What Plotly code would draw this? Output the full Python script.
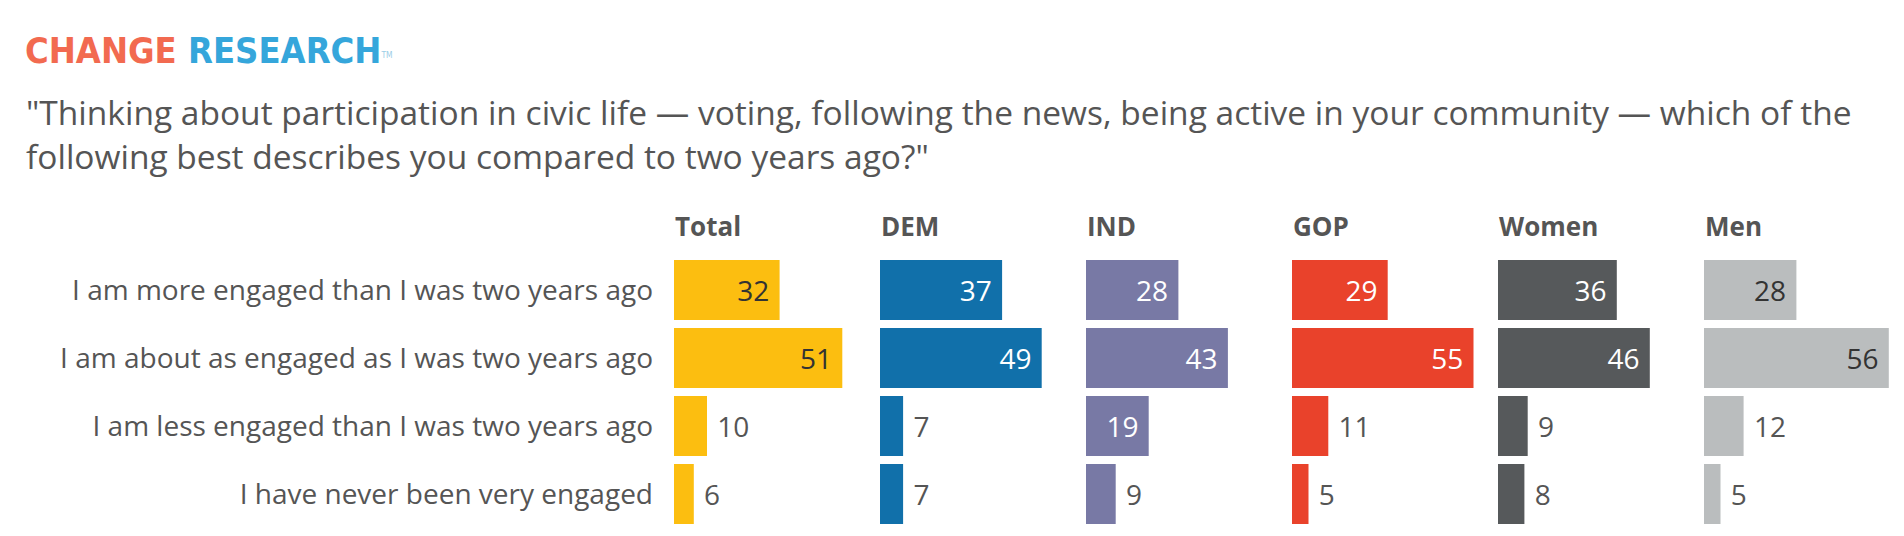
import plotly.graph_objects as go

W, H = 1904, 536

categories = [
    "I am more engaged than I was two years ago",
    "I am about as engaged as I was two years ago",
    "I am less engaged than I was two years ago",
    "I have never been very engaged",
]
groups = ["Total", "DEM", "IND", "GOP", "Women", "Men"]

total = [32, 51, 10, 6]
dem = [37, 49, 7, 7]
ind = [28, 43, 19, 9]
gop = [29, 55, 11, 5]
women = [36, 46, 9, 8]
men = [28, 56, 12, 5]
series = [total, dem, ind, gop, women, men]

bar_colors = ["#FCBE10", "#1170AA", "#7879A5", "#E9422B", "#56595B", "#BABDBE"]
inside_text = ["#333333", "white", "white", "white", "white", "#333333"]

GRAY = "#555555"
FONT = "Open Sans"
NBSP = "\u00a0"


def px_x(p):
    return p / W


def px_y(p):
    # pixels from the top -> paper coords
    return 1 - p / H


panel_start = 666
panel_step = 206
panel_width = 198

fig = go.Figure()
annotations = []

for i, (name, vals) in enumerate(zip(groups, series)):
    xa = "x" if i == 0 else f"x{i + 1}"
    inside = [v >= 15 for v in vals]
    fig.add_trace(go.Bar(
        x=vals, y=categories, orientation="h",
        xaxis=xa, yaxis="y",
        marker=dict(color=bar_colors[i], line=dict(width=0)),
        # small gap between bar end and the number, as in the original
        text=[f"{v}{NBSP}" if ins else f"{NBSP}{v}" for v, ins in zip(vals, inside)],
        textposition=["inside" if ins else "outside" for ins in inside],
        insidetextanchor="end",
        insidetextfont=dict(family=FONT, size=28, color=inside_text[i]),
        outsidetextfont=dict(family=FONT, size=28, color=GRAY),
        cliponaxis=False,
        showlegend=False,
        hoverinfo="skip",
    ))
    x0 = panel_start + panel_step * i
    key = "xaxis" if i == 0 else f"xaxis{i + 1}"
    fig.layout[key] = dict(
        domain=[px_x(x0), px_x(x0 + panel_width)],
        range=[0, 60], visible=False, anchor="y", fixedrange=True,
    )
    # group header
    annotations.append(dict(
        x=px_x(x0 - 1), y=px_y(218), xref="paper", yref="paper",
        xanchor="left", yanchor="middle", showarrow=False,
        text=f"<b>{name}</b>",
        font=dict(family=FONT, size=26, color=GRAY),
    ))

# logo
annotations.append(dict(
    x=px_x(15), y=px_y(42), xref="paper", yref="paper",
    xanchor="left", yanchor="middle", showarrow=False,
    text="<b><span style='color:#F26A50'>CHANGE</span> "
         "<span style='color:#35A6DB'>RESEARCH</span></b>"
         "<span style='color:#9BCDE6;font-size:12px'><sup>TM</sup></span>",
    font=dict(family="DejaVu Sans Condensed", size=36),
))

# question
annotations.append(dict(
    x=px_x(16), y=px_y(79), xref="paper", yref="paper",
    xanchor="left", yanchor="top", showarrow=False, align="left",
    text="\"Thinking about participation in civic life \u2014 voting, following the news, "
         "being active in your community \u2014 which of the<br>"
         "following best describes you compared to two years ago?\"",
    font=dict(family=FONT, size=33.5, color=GRAY),
))

fig.update_layout(
    width=W, height=H,
    margin=dict(l=0, r=0, t=0, b=0),
    paper_bgcolor="white", plot_bgcolor="white",
    bargap=0.118,
    yaxis=dict(
        domain=[px_y(520), px_y(248)],
        type="category", categoryarray=categories,
        range=[3.5, -0.5], anchor="x",
        showgrid=False, zeroline=False, showline=False, ticks="",
        ticklabelstandoff=20,
        tickfont=dict(family=FONT, size=28, color=GRAY),
        fixedrange=True,
    ),
    annotations=annotations,
    font=dict(family=FONT, color=GRAY),
)

fig.write_html("out.html", config={"displayModeBar": False})
